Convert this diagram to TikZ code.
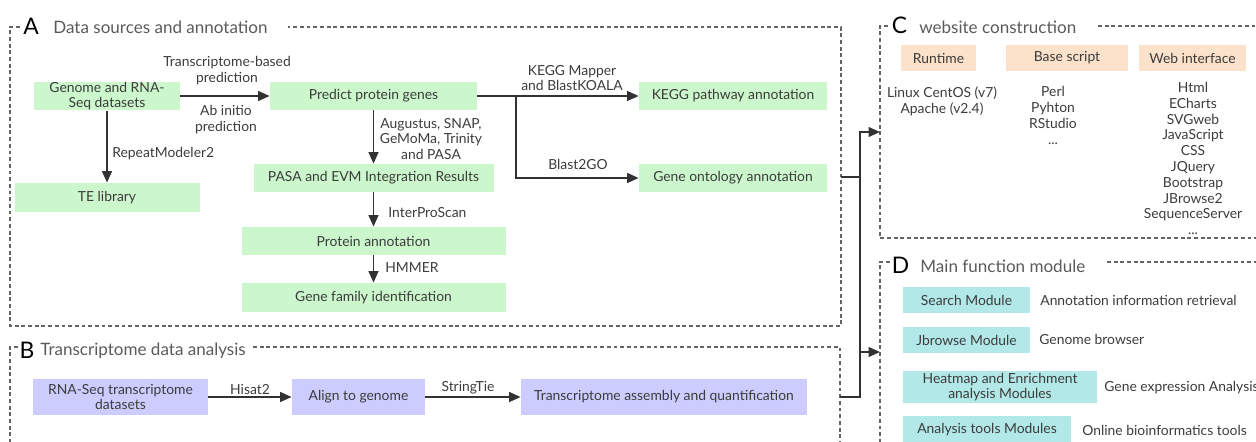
\documentclass[tikz,border=0pt]{standalone}
\usepackage{fontspec}
\setmainfont{Lato}
\usetikzlibrary{arrows.meta}
\definecolor{greenbox}{RGB}{204,246,204}
\definecolor{purplebox}{RGB}{204,204,255}
\definecolor{orangebox}{RGB}{252,226,202}
\definecolor{cyanbox}{RGB}{178,232,232}
\definecolor{textgray}{RGB}{60,60,60}
\definecolor{headgray}{RGB}{90,90,90}
\definecolor{linegray}{RGB}{50,50,50}
\definecolor{framegray}{RGB}{100,100,100}

\begin{document}
\begin{tikzpicture}[x=0.02cm,y=-0.02cm,
    wh/.style 2 args={minimum width=#1*0.02cm, minimum height=#2*0.02cm},
    txt/.style={inner sep=0pt, text=textgray, align=center, font=\fontsize{7.9}{9}\selectfont},
    gbox/.style={txt, fill=greenbox},
    pbox/.style={txt, fill=purplebox},
    obox/.style={txt, fill=orangebox},
    cbox/.style={txt, fill=cyanbox},
    lbl/.style={txt},
    letter/.style={inner sep=0pt, text=black, font=\fontsize{13}{13}\selectfont},
    heading/.style={inner sep=0pt, anchor=west, text=headgray, font=\fontsize{9.7}{11}\selectfont},
    frame/.style={draw=framegray, line width=0.6pt, dash pattern=on 2.2pt off 1.6pt},
    arr/.style={draw=linegray, line width=1.1pt, -{Triangle[length=6.5pt,width=5.5pt]}},
    conn/.style={draw=linegray, line width=1.1pt}]
    \useasboundingbox (0,0) rectangle (1256,442);

    % panel A
    \draw[frame] (20,27) -- (10,27) -- (10,326) -- (841,326) -- (841,27) -- (288,27);
    \node[letter] (lettera) at (31,26) {A};
    \node[heading] (heada) at (53,27) {Data sources and annotation};

    \node[gbox, wh={146}{28}] (genome) at (107,96) {Genome and RNA-\\Seq datasets};
    \node[gbox, wh={207}{28}] (predict) at (373.5,96) {Predict protein genes};
    \node[gbox, wh={185}{29}] (telib) at (107,197.5) {TE library};
    \node[gbox, wh={240}{28}] (pasa) at (373.5,178) {PASA and EVM Integration Results};
    \node[gbox, wh={264}{28}] (protein) at (373.5,241) {Protein annotation};
    \node[gbox, wh={264}{29}] (family) at (373.5,297.5) {Gene family identification};
    \node[gbox, wh={188}{28}] (kegg) at (733,96) {KEGG pathway annotation};
    \node[gbox, wh={188}{28}] (gonto) at (733,178) {Gene ontology annotation};

    \node[lbl] (lbltrans) at (227,70.5) {Transcriptome-based\\prediction};
    \node[lbl] (lblabinit) at (226,119.5) {Ab initio\\prediction};
    \node[lbl, anchor=west] (lblrepeat) at (112,154) {RepeatModeler2};
    \node[lbl] (lblaug) at (431,139) {Augustus, SNAP,\\GeMoMa, Trinity\\and PASA};
    \node[lbl] (lblkegg) at (572,78) {KEGG Mapper\\and BlastKOALA};
    \node[lbl] (lblblast) at (578,164) {Blast2GO};
    \node[lbl, anchor=west] (lblinter) at (388,213) {InterProScan};
    \node[lbl, anchor=west] (lblhmmer) at (385,268) {HMMER};

    \coordinate (split) at (516,96);
    \draw[arr] (genome) -- (predict);
    \draw[arr] (genome) -- (telib);
    \draw[arr] (predict) -- (pasa);
    \draw[arr] (pasa) -- (protein);
    \draw[arr] (protein) -- (family);
    \draw[arr] (predict) -- (kegg);
    \draw[arr] (split) |- (gonto);

    % panel B
    \draw[frame] (18,347) -- (10,347) -- (10,450);
    \draw[frame] (253,347) -- (840,347) -- (840,450);
    \node[letter] (letterb) at (27,350) {B};
    \node[heading] (headb) at (40,351) {Transcriptome data analysis};

    \node[pbox, wh={175}{36}] (rnaseq) at (120.5,397) {RNA-Seq transcriptome\\datasets};
    \node[pbox, wh={133}{36}] (align) at (358.5,397) {Align to genome};
    \node[pbox, wh={286}{36}] (assembly) at (664,397) {Transcriptome assembly and quantification};

    \node[lbl] (lblhisat) at (250,389) {Hisat2};
    \node[lbl] (lblstring) at (468,388) {StringTie};

    \draw[arr] (rnaseq) -- (align);
    \draw[arr] (align) -- (assembly);

    % panel C
    \draw[frame] (888,26) -- (880,26) -- (880,238) -- (1260,238);
    \draw[frame] (1098,26) -- (1260,26);
    \node[letter] (letterc) at (899.5,25.5) {C};
    \node[heading] (headc) at (919,27) {website construction};

    \node[obox, wh={75}{26}] (runtime) at (938.5,58) {Runtime};
    \node[obox, wh={122}{26}] (basescript) at (1067,58) {Base script};
    \node[obox, wh={107}{26}] (webif) at (1192.5,58) {Web interface};

    \node[lbl] (runlist) at (942,101.5) {Linux CentOS (v7)\\Apache (v2.4)};
    \node[lbl] (baselist) at (1053,115.5) {Perl\\Pyhton\\RStudio\\...};
    \node[lbl] (weblist) at (1193,158.5) {Html\\ECharts\\SVGweb\\JavaScript\\CSS\\JQuery\\Bootstrap\\JBrowse2\\SequenceServer\\...};

    % panel D
    \draw[frame] (890,262) -- (880,262) -- (880,450);
    \draw[frame] (1107,262) -- (1260,262);
    \node[letter] (letterd) at (900.5,265) {D};
    \node[heading] (headd) at (920,266) {Main function module};

    \node[cbox, wh={127}{26}] (search) at (966.5,300) {Search Module};
    \node[cbox, wh={127}{26}] (jbrowse) at (966.5,340) {Jbrowse Module};
    \node[cbox, wh={194}{32}] (heatmap) at (1000,387) {Heatmap and Enrichment\\analysis Modules};
    \node[cbox, wh={168}{28}] (tools) at (987,430) {Analysis tools Modules};

    \node[lbl, anchor=west] (descsearch) at (1040,300) {Annotation information retrieval};
    \node[lbl, anchor=west] (descjbrowse) at (1039,339) {Genome browser};
    \node[lbl, anchor=west] (descheatmap) at (1104,388) {Gene expression Analysis};
    \node[lbl, anchor=west] (desctools) at (1082,430) {Online bioinformatics tools};

    % joining lines
    \coordinate (aout) at (841,177);
    \coordinate (bout) at (840,397);
    \coordinate (trunk) at (860,132);
    \coordinate (cin) at (880,132);
    \coordinate (din) at (880,352);
    \draw[conn] (aout) -- (aout -| trunk);
    \draw[arr] (bout) -| (trunk) -- (cin);
    \draw[arr] (trunk |- din) -- (din);
\end{tikzpicture}
\end{document}
